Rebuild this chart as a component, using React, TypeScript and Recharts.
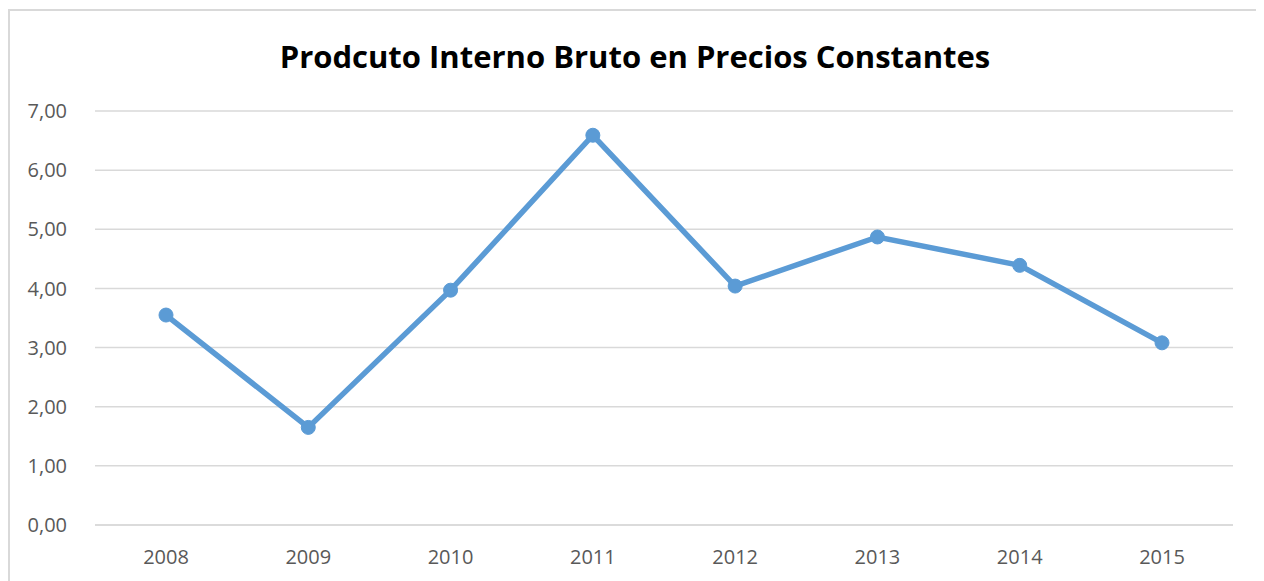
import { LineChart, Line, XAxis, YAxis, CartesianGrid } from 'recharts';

const years = ['2008', '2009', '2010', '2011', '2012', '2013', '2014', '2015'];
const pib = [3.55, 1.65, 3.97, 6.59, 4.04, 4.87, 4.39, 3.08];
const yTicks = [0, 1, 2, 3, 4, 5, 6, 7];

const data = years.map((year, i) => ({ year, pib: pib[i] }));

const fmt = (v: number) => v.toFixed(2).replace('.', ',');

export default function App() {
  return (
    <div
      style={{
        position: 'relative',
        width: 1250,
        height: 580,
        marginTop: 1,
        border: '2px solid #d9d9d9',
        background: '#fff',
        fontFamily: '"Open Sans", sans-serif',
      }}
    >
      <div
        style={{
          position: 'absolute',
          top: 25,
          left: 0,
          width: 1250,
          textAlign: 'center',
          fontSize: 31,
          fontWeight: 700,
          color: '#000',
          lineHeight: '40px',
        }}
      >
        Prodcuto Interno Bruto en Precios Constantes
      </div>
      <LineChart
        width={1250}
        height={572}
        data={data}
        margin={{ top: 100, right: 27, bottom: 28, left: 0 }}
      >
        <CartesianGrid vertical={false} stroke="#d9d9d9" strokeWidth={1.5} />
        <XAxis
          dataKey="year"
          padding={{ left: 71, right: 71 }}
          axisLine={{ stroke: '#d9d9d9', strokeWidth: 1.5 }}
          tickLine={false}
          tickSize={0}
          tickMargin={25}
          height={30}
          tick={{ fill: '#595959', fontSize: 20, fontFamily: '"Open Sans", sans-serif' }}
        />
        <YAxis
          domain={[0, 7]}
          ticks={yTicks}
          tickFormatter={fmt}
          width={85}
          axisLine={false}
          tickLine={false}
          tickSize={0}
          tickMargin={28}
          tick={{ fill: '#595959', fontSize: 20, fontFamily: '"Open Sans", sans-serif' }}
        />
        <Line
          dataKey="pib"
          stroke="#5b9bd5"
          strokeWidth={5.5}
          dot={{ r: 7, fill: '#5b9bd5', stroke: '#5b9bd5', strokeWidth: 1 }}
          activeDot={false}
          isAnimationActive={false}
        />
      </LineChart>
    </div>
  );
}
